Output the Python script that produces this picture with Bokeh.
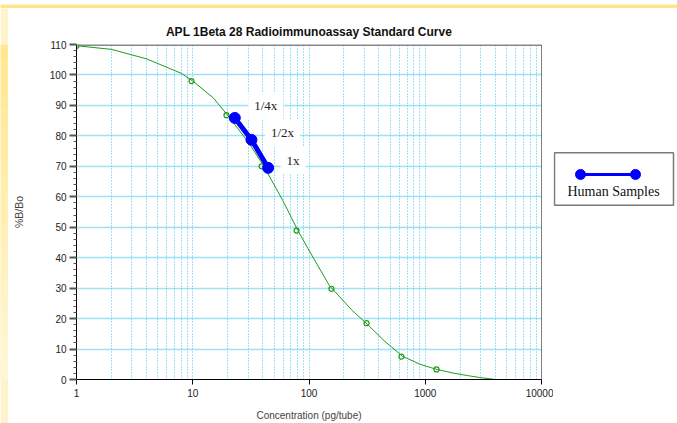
from bokeh.plotting import figure
from bokeh.models import Range1d, FixedTicker, Span, Label
from bokeh.layouts import row, column
from bokeh.embed import file_html
from bokeh.resources import INLINE
from bokeh.core.properties import value

# ---------------- data ----------------
std_conc = [1, 9.77, 19.5, 39.1, 78.1, 156, 312.5, 625, 1250]
std_bbo = [109.6, 98.0, 86.8, 70.0, 48.9, 29.8, 18.5, 7.5, 3.3]

curve_conc = [1, 2, 4, 8, 10, 15, 20, 30, 40, 50, 60, 80, 100, 150, 235,
              320, 450, 640, 900, 1260, 1800, 2300, 3000, 4000]
curve_bbo = [109.6, 108.4, 105.3, 100.5, 98.0, 92.5, 86.7, 78.0, 70.6, 64.0,
             58.5, 49.0, 42.4, 30.8, 22.7, 18.0, 12.5, 7.6, 5.0, 3.3, 2.0,
             1.3, 0.6, 0.0]

sample_conc = [23.0, 32.0, 44.5]
sample_bbo = [85.9, 78.7, 69.5]
sample_labels = ["1/4x", "1/2x", "1x"]

x_ticks = [1, 10, 100, 1000, 10000]
x_tick_labels = ["1", "10", "100", "1000", "10000"]
y_ticks = [0, 10, 20, 30, 40, 50, 60, 70, 80, 90, 100, 110]

title_text = "APL 1Beta 28 Radioimmunoassay Standard Curve"
x_label = "Concentration (pg/tube)"
y_label = "%B/Bo"
legend_label = "Human Samples"

# ---------------- styles ----------------
GRID = "#3fc2f0"
GREEN = "#1f9a1f"
BLUE = "#0000ff"
SANS = "Liberation Sans"
SERIF = "Liberation Serif"
FRAME_TOP = "#ffe68c"


def blank(width, height, color):
    f = figure(width=width, height=height, output_backend="svg", toolbar_location=None,
               x_axis_location=None, y_axis_location=None, min_border=0,
               x_range=Range1d(0, 1), y_range=Range1d(0, 1))
    f.grid.visible = False
    f.outline_line_color = None
    f.background_fill_color = color
    f.border_fill_color = color
    return f


p = figure(width=545, height=415, x_axis_type="log",
           x_range=Range1d(1, 10000), y_range=Range1d(0, 110),
           output_backend="svg", toolbar_location=None,
           min_border_left=68, min_border_right=12,
           min_border_top=36, min_border_bottom=44)
p.outline_line_color = None
p.background_fill_color = "white"
p.border_fill_color = "white"

p.title.text = title_text
p.title.align = "center"
p.title.text_font = SANS
p.title.text_font_size = "12px"
p.title.text_font_style = "bold"
p.title.text_color = "#111111"
p.title.standoff = 12

# x axis
p.xaxis.ticker = FixedTicker(ticks=x_ticks)
p.xaxis.major_label_overrides = {t: l for t, l in zip(x_ticks, x_tick_labels)}
p.xaxis.axis_label = x_label
p.xaxis.axis_label_text_font = SANS
p.xaxis.axis_label_text_font_size = "10px"
p.xaxis.axis_label_text_font_style = "normal"
p.xaxis.axis_label_standoff = 10
p.xaxis.major_label_text_font = SANS
p.xaxis.major_label_text_font_size = "10px"
p.xaxis.major_label_text_color = "#222222"
p.xaxis.major_label_standoff = 4
p.xaxis.major_tick_out = 5
p.xaxis.major_tick_in = 0
p.xaxis.major_tick_line_color = "black"
p.xaxis.minor_tick_line_color = None
p.xaxis.axis_line_color = "black"

# y axis
p.yaxis.ticker = FixedTicker(ticks=y_ticks, minor_ticks=list(range(0, 111, 2)))
p.yaxis.axis_label = y_label
p.yaxis.axis_label_text_font = SANS
p.yaxis.axis_label_text_font_size = "10.5px"
p.yaxis.axis_label_text_font_style = "normal"
p.yaxis.axis_label_standoff = 22
p.yaxis.major_label_text_font = SANS
p.yaxis.major_label_text_font_size = "10px"
p.yaxis.major_label_text_color = "#222222"
p.yaxis.major_label_standoff = 3
p.yaxis.major_tick_out = 7
p.yaxis.major_tick_in = 0
p.yaxis.major_tick_line_width = 2
p.yaxis.major_tick_line_color = "#555555"
p.yaxis.minor_tick_out = 3
p.yaxis.minor_tick_in = 0
p.yaxis.minor_tick_line_color = "#555555"
p.yaxis.axis_line_color = "black"

# grids (dotted light blue)
minor_x = [m * 10 ** d for d in range(4) for m in range(2, 10)]
p.xgrid.ticker = FixedTicker(ticks=[10, 100, 1000], minor_ticks=minor_x)
p.xgrid.grid_line_color = GRID
p.xgrid.grid_line_dash = "1 2"
p.xgrid.minor_grid_line_color = GRID
p.xgrid.minor_grid_line_dash = "1 2"
p.ygrid.ticker = FixedTicker(ticks=y_ticks[1:-1])
p.ygrid.grid_line_color = GRID
p.ygrid.grid_line_dash = "1 1"
p.ygrid.grid_line_width = 1.3

# frame borders
p.add_layout(Span(location=110, dimension="width", line_color="#888888", line_width=3))
p.add_layout(Span(location=10000, dimension="height", line_color="black", line_width=1))

# standard curve
p.line(curve_conc, curve_bbo, line_color=GREEN, line_width=1)
p.scatter(std_conc, std_bbo, marker="circle", size=5, fill_color=None,
          line_color=GREEN, line_width=1.2)

# human samples
p.line(sample_conc, sample_bbo, line_color=BLUE, line_width=5)
p.scatter(sample_conc, sample_bbo, marker="circle", size=11,
          fill_color=BLUE, line_color=BLUE)

label_dx = [31, 31, 25]
label_dy = [12, 7, 7]
for xv, yv, txt, dx, dy in zip(sample_conc, sample_bbo, sample_labels, label_dx, label_dy):
    p.add_layout(Label(x=xv, y=yv, text=txt, x_offset=dx, y_offset=dy,
                       text_align="center", text_baseline="middle",
                       text_font=SERIF, text_font_size="13px", text_color="#222222",
                       background_fill_color="white", padding=6))

# ---------------- legend panel ----------------
p2 = figure(width=124, height=415, x_range=Range1d(0, 124), y_range=Range1d(415, 0),
            output_backend="svg", toolbar_location=None,
            x_axis_location=None, y_axis_location=None, min_border=0)
p2.grid.visible = False
p2.outline_line_color = None
p2.background_fill_color = "white"
p2.border_fill_color = "white"
p2.quad(left=[1], right=[120], top=[134], bottom=[199], fill_color="white",
        line_color="#7a7a7a", line_width=1.5)
p2.line([27, 82], [161, 161], line_color=BLUE, line_width=3)
p2.scatter([27, 82], [161, 161], marker="circle", size=10, fill_color=BLUE, line_color=BLUE)
p2.text(x=[60], y=[182], text=[legend_label], text_font=value(SERIF),
        text_font_size="14px", text_align="center", text_baseline="middle",
        text_color="#111111")

# ---------------- yellow frame strips ----------------
top_strip = blank(677, 8, FRAME_TOP)
left_strip = blank(8, 415, "#fff3cc")
n_bands = 20
c0 = (0xff, 0xe8, 0x90)
c1 = (0xff, 0xf6, 0xd6)
for i in range(n_bands):
    t = i / (n_bands - 1)
    col = "#%02x%02x%02x" % tuple(int(round(a + (b - a) * t)) for a, b in zip(c0, c1))
    left_strip.quad(left=[0], right=[1], top=[1 - i / n_bands], bottom=[1 - (i + 1) / n_bands],
                    fill_color=col, line_color=None)

layout = column(top_strip, row(left_strip, p, p2))
open("out.html", "w").write(file_html(layout, INLINE))
